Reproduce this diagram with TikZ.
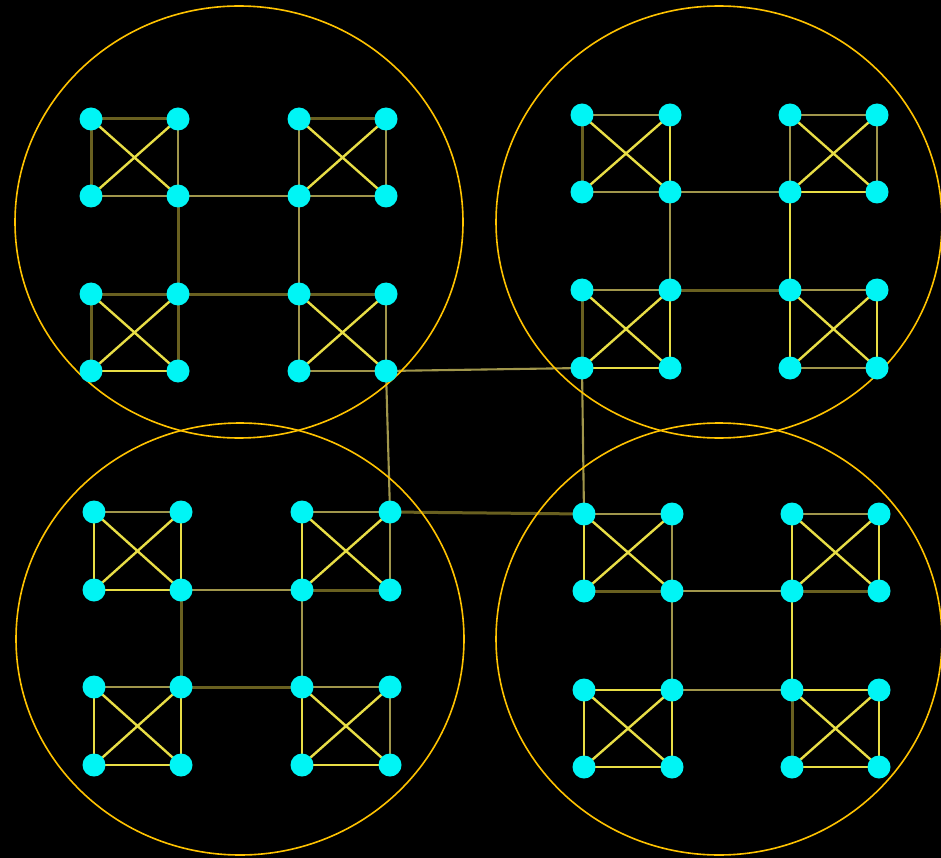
\documentclass[tikz,border=0pt]{standalone}
\usetikzlibrary{shapes.geometric}
\pgfdeclarelayer{bg}
\pgfdeclarelayer{edges}
\pgfsetlayers{bg,edges,main}
\definecolor{cyanN}{RGB}{0,245,245}
\definecolor{brY}{RGB}{232,222,70}
\definecolor{miY}{RGB}{160,150,75}
\definecolor{dmY}{RGB}{105,96,32}
\definecolor{ringY}{RGB}{255,195,0}
\tikzset{
  nd/.style={circle,fill=cyanN,draw=none,minimum size=23pt,inner sep=0pt},
  br/.style={draw=brY,line width=2.4pt},
  mi/.style={draw=miY,line width=2.1pt},
  dm/.style={draw=dmY,line width=3pt},
  ring/.style={draw=ringY,line width=1.6pt}
}
% #1 prefix, #2 xl, #3 xr, #4 yt, #5 yb, #6 top, #7 left, #8 right, #9 bottom
\newcommand\mkK[9]{%
  \node[nd] (#1a) at (#2,#4) {};
  \node[nd] (#1b) at (#3,#4) {};
  \node[nd] (#1c) at (#2,#5) {};
  \node[nd] (#1d) at (#3,#5) {};
  \begin{pgfonlayer}{edges}
    \draw[#6] (#1a.center) -- (#1b.center);
    \draw[#7] (#1a.center) -- (#1c.center);
    \draw[#8] (#1b.center) -- (#1d.center);
    \draw[#9] (#1c.center) -- (#1d.center);
    \draw[br] (#1a.center) -- (#1d.center);
    \draw[br] (#1b.center) -- (#1c.center);
  \end{pgfonlayer}}
\begin{document}
\begin{tikzpicture}[x=1pt,y=-1pt]
\begin{pgfonlayer}{bg}
  \fill[black] (0,0) rectangle (941,858);
\end{pgfonlayer}
\useasboundingbox (0,0) rectangle (941,858);
% ellipses
\node[ring,ellipse,minimum width=448pt,minimum height=432pt,inner sep=0pt] (E1) at (239,222) {};
\node[ring,ellipse,minimum width=446pt,minimum height=432pt,inner sep=0pt] (E2) at (719,222) {};
\node[ring,ellipse,minimum width=448pt,minimum height=432pt,inner sep=0pt] (E3) at (240,639) {};
\node[ring,ellipse,minimum width=446pt,minimum height=432pt,inner sep=0pt] (E4) at (719,639) {};
% cluster 1 (top-left)
\mkK{PA}{91}{178}{119}{196}{dm}{dm}{mi}{mi}
\mkK{PB}{299}{386}{119}{196}{dm}{mi}{mi}{mi}
\mkK{PC}{91}{178}{294}{371}{dm}{dm}{dm}{br}
\mkK{PD}{299}{386}{294}{371}{dm}{mi}{mi}{mi}
% cluster 2 (top-right)
\mkK{QA}{582}{670}{115}{192}{mi}{dm}{br}{mi}
\mkK{QB}{790}{877}{115}{192}{mi}{mi}{mi}{br}
\mkK{QC}{582}{670}{290}{368}{mi}{dm}{br}{br}
\mkK{QD}{790}{877}{290}{368}{mi}{br}{br}{mi}
% cluster 3 (bottom-left)
\mkK{RA}{94}{181}{512}{590}{mi}{br}{br}{br}
\mkK{RB}{302}{390}{512}{590}{mi}{br}{mi}{dm}
\mkK{RC}{94}{181}{687}{765}{mi}{br}{br}{br}
\mkK{RD}{302}{390}{687}{765}{mi}{br}{mi}{br}
% cluster 4 (bottom-right)
\mkK{SA}{584}{672}{514}{591}{mi}{br}{mi}{dm}
\mkK{SB}{792}{879}{514}{591}{mi}{br}{br}{dm}
\mkK{SC}{584}{672}{690}{767}{br}{br}{br}{br}
\mkK{SD}{792}{879}{690}{767}{br}{dm}{br}{br}
\begin{pgfonlayer}{edges}
  % intra-cluster links
  \draw[mi] (PAd.center) -- (PBc.center);
  \draw[dm] (PAd.center) -- (PCb.center);
  \draw[dm] (PCb.center) -- (PDa.center);
  \draw[mi] (PBc.center) -- (PDa.center);
  \draw[mi] (QAd.center) -- (QBc.center);
  \draw[mi] (QAd.center) -- (QCb.center);
  \draw[dm] (QCb.center) -- (QDa.center);
  \draw[br] (QBc.center) -- (QDa.center);
  \draw[mi] (RAd.center) -- (RBc.center);
  \draw[dm] (RAd.center) -- (RCb.center);
  \draw[dm] (RCb.center) -- (RDa.center);
  \draw[mi] (RBc.center) -- (RDa.center);
  \draw[mi] (SAd.center) -- (SBc.center);
  \draw[mi] (SAd.center) -- (SCb.center);
  \draw[mi] (SCb.center) -- (SDa.center);
  \draw[br] (SBc.center) -- (SDa.center);
  % inter-cluster links
  \draw[mi] (PDd.center) -- (QCc.center);
  \draw[mi] (PDd.center) -- (RBb.center);
  \draw[dm] (RBb.center) -- (SAa.center);
  \draw[mi] (QCc.center) -- (SAa.center);
\end{pgfonlayer}
\end{tikzpicture}
\end{document}
